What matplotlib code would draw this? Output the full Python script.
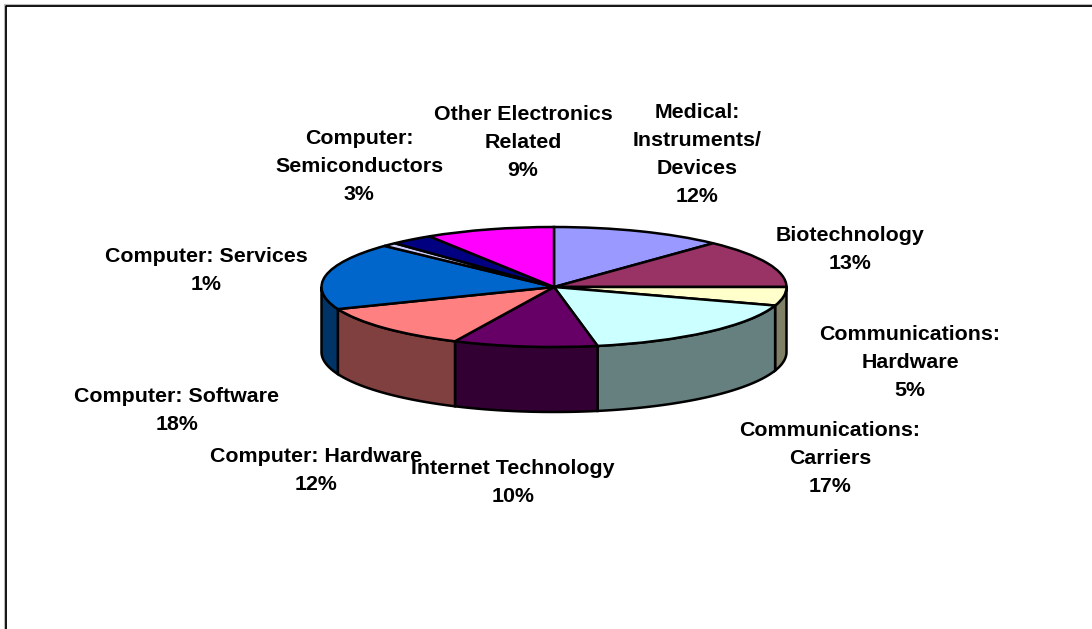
#!/usr/bin/env python3
"""Excel style 3D pie of sector shares."""
import matplotlib
matplotlib.use("Agg")
import matplotlib.pyplot as plt
import numpy as np

plt.rcParams["font.family"] = ["Liberation Sans", "DejaVu Sans"]

sectors = ["Medical:\nInstruments/\nDevices", "Biotechnology", "Communications:\nHardware",
           "Communications:\nCarriers", "Internet Technology", "Computer: Hardware",
           "Computer: Software", "Computer: Services", "Computer:\nSemiconductors",
           "Other Electronics\nRelated"]
shares = [12, 13, 5, 17, 10, 12, 18, 1, 3, 9]
top_colors = ["#9999FF", "#993366", "#FFFFCC", "#CCFFFF", "#660066",
              "#FF8080", "#0066CC", "#CCCCFF", "#000080", "#FF00FF"]
side_colors = ["#666699", "#662244", "#808066", "#668080", "#330033",
               "#804040", "#003366", "#666680", "#000040", "#800080"]
# label centres in pixels
label_xy = [(697, 155), (850, 249), (910, 363), (830, 458), (513, 483),
            (316, 470), (177, 411), (206, 271), (359, 167), (523, 143)]

W, H = 1092, 629
CX, CY, RX, RY, DEPTH = 554, 287, 232.5, 60, 65

fig = plt.figure(figsize=(W / 100, H / 100), dpi=100)
ax = fig.add_axes([0, 0, 1, 1])

# outer chart frame, only left and top show, with a faint grey edge outside it
fig.add_artist(plt.Line2D([4.2 / W, 4.2 / W, 1], [0, 1 - 4.2 / H, 1 - 4.2 / H],
                          color="#bbbbbb", lw=0.8))
fig.add_artist(plt.Line2D([5.5 / W, 5.5 / W, 1], [0, 1 - 5.5 / H, 1 - 5.5 / H],
                          color="black", lw=1.3))

# one data unit is RX pixels across and RY pixels down, so the pie comes out flat
wedges, _ = ax.pie(shares, colors=top_colors, startangle=90, counterclock=False, radius=1,
                   wedgeprops=dict(edgecolor="black", linewidth=1.8, zorder=3))
ax.set_xlim(-CX / RX, (W - CX) / RX)
ax.set_ylim((CY - H) / RY, CY / RY)
ax.set_aspect("auto")
ax.axis("off")

# side wall, only the front half (clockwise from the top, 90..270 deg) can be seen
ends = np.cumsum(shares) * 3.6
starts = ends - np.array(shares) * 3.6
d = DEPTH / RY
for a0, a1, col in zip(starts, ends, side_colors):
    a0, a1 = max(a0, 90), min(a1, 270)
    if a1 <= a0:
        continue
    t = np.radians(np.linspace(a0, a1, 60))
    xs, ys = np.sin(t), np.cos(t)
    ax.fill(np.r_[xs, xs[::-1]], np.r_[ys, ys[::-1] - d], facecolor=col,
            edgecolor="black", lw=1.8, zorder=2)

for name, val, (x, y) in zip(sectors, shares, label_xy):
    fig.text(x / W, 1 - y / H, f"{name}\n{val}%", ha="center", va="center", fontsize=15.4,
             fontweight="bold", linespacing=1.6, color="black")

fig.savefig("out.png", dpi=100)
